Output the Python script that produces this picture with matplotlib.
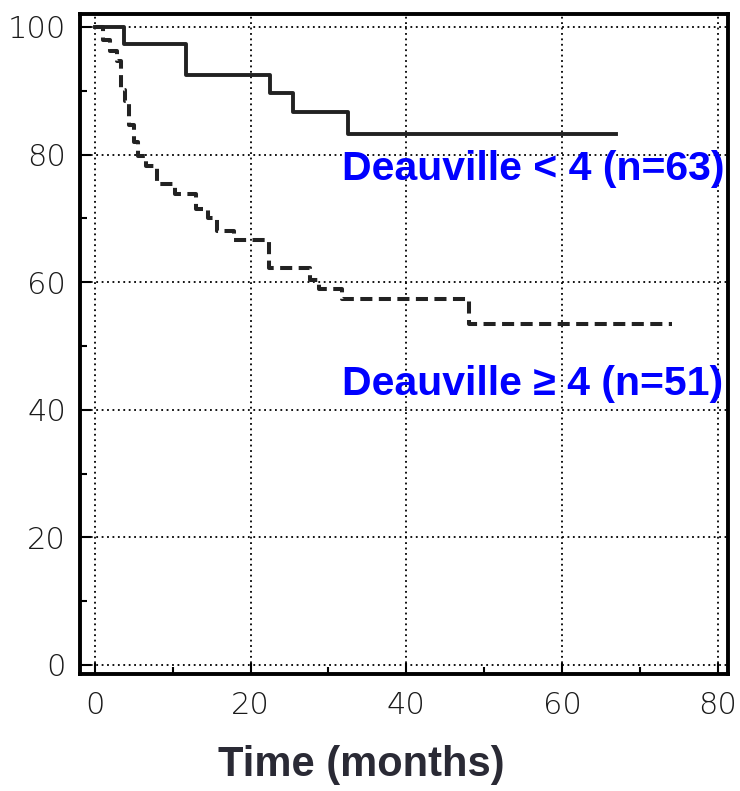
import matplotlib
matplotlib.use("Agg")
import matplotlib.pyplot as plt
from matplotlib.ticker import MultipleLocator

# Deauville < 4 (n=63): step times and survival (%) after each step
low_t = [0, 3.8, 11.7, 22.5, 25.5, 32.5, 66.9]
low_s = [100, 97.3, 92.5, 89.7, 86.7, 83.2, 83.2]

# Deauville >= 4 (n=51)
high_t = [0, 1.1, 2.0, 2.8, 3.4, 3.9, 4.4, 5.0, 5.6, 6.6, 8.0, 10.3,
          13.0, 14.6, 15.7, 17.9, 22.4, 27.6, 28.8, 31.7, 48.0, 74.1]
high_s = [100, 98.0, 96.2, 94.6, 90.2, 88.4, 84.6, 82.0, 79.8, 78.2, 75.4, 73.8,
          71.4, 70.0, 68.0, 66.6, 62.3, 60.4, 58.9, 57.4, 53.4, 53.4]

labels = ["Deauville < 4 (n=63)", "Deauville \u2265 4 (n=51)"]
label_pos = [(31.8, 77.7), (31.8, 44.0)]

fig = plt.figure(figsize=(7.4, 7.91), dpi=100)
ax = fig.add_axes([0.108, 0.148, 0.876, 0.834])

ax.step(low_t, low_s, where="post", color="#222222", lw=2.8)
ax.step(high_t, high_s, where="post", color="#222222", lw=2.9,
        linestyle=(0, (3.0, 1.6)))

ax.set_xlim(-1.9, 81.3)
ax.set_ylim(-1.4, 102.0)
ax.xaxis.set_major_locator(MultipleLocator(20))
ax.xaxis.set_minor_locator(MultipleLocator(10))
ax.yaxis.set_major_locator(MultipleLocator(20))
ax.yaxis.set_minor_locator(MultipleLocator(10))
ax.grid(True, which="major", color="black", linestyle=(0, (1, 2)), lw=1.3)

ax.tick_params(which="major", direction="in", length=8, width=1.5,
               labelsize=22, labelcolor="#1a1a1a", pad=12)
ax.tick_params(which="minor", direction="in", length=5, width=1.5)
for lab in ax.get_xticklabels() + ax.get_yticklabels():
    lab.set_family(["Liberation Sans Narrow", "DejaVu Sans"])
    lab.set_fontweight("light")
ax.tick_params(axis="y", pad=10)
for sp in ax.spines.values():
    sp.set_linewidth(2.8)

for txt, (x, y) in zip(labels, label_pos):
    ax.text(x, y, txt, color="#0000ff", fontsize=29.5, fontweight="bold",
            family=["Liberation Sans", "DejaVu Sans"], va="center", ha="left")

fig.text(0.488, 0.033, "Time (months)", fontsize=30, fontweight="bold",
         color="#2a2a35", ha="center", va="center",
         family=["Liberation Sans", "DejaVu Sans"])

fig.savefig("out.png", dpi=100, facecolor="white")
